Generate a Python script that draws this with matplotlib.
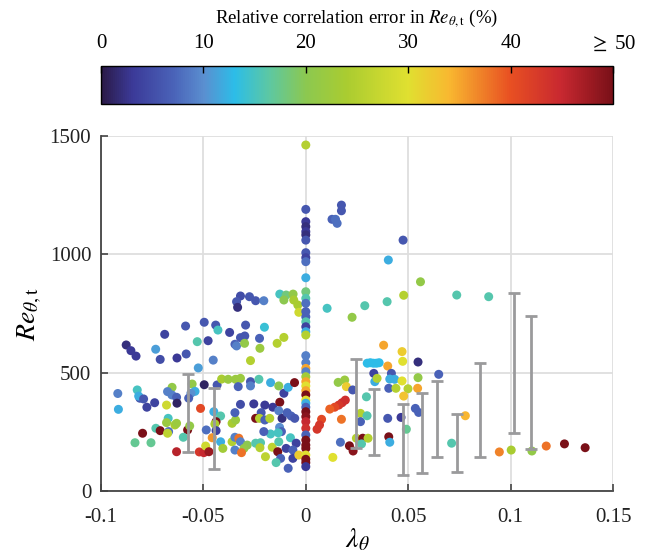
import numpy as np
import matplotlib
matplotlib.use("Agg")
import matplotlib.pyplot as plt
from matplotlib.colors import LinearSegmentedColormap, Normalize

plt.rcParams['font.family'] = ['Liberation Serif', 'DejaVu Serif']
plt.rcParams['mathtext.fontset'] = 'stix'

# ---- scatter data: pressure-gradient parameter, transition Re, relative error (%) ----
lam = [
    -0.0587, -0.0496, -0.0689, -0.0530, -0.0477, -0.0877, -0.0854, -0.0829, -0.0733, -0.0711,
    -0.0629, -0.0584, -0.0525, -0.0823, -0.0810, -0.0918, -0.0653, -0.0555, -0.0496, -0.0541,
    -0.0816, -0.0792, -0.0776, -0.0738, -0.0915, -0.0680, -0.0675, -0.0654, -0.0631, -0.0629,
    -0.0561, -0.0572, -0.0514, -0.0672, -0.0680, -0.0639, -0.0631, -0.0732, -0.0711, -0.0670,
    -0.0675, -0.0577, -0.0567, -0.0598, -0.0797, -0.0834, -0.0756, -0.0631, -0.0520, -0.0498,
    -0.0489, -0.0486, -0.0449, -0.0416, -0.0438, -0.0444, -0.0360, -0.0343, -0.0346, -0.0319,
    -0.0254, -0.0200, -0.0161, -0.0127, -0.0132, -0.0218, -0.0245, -0.0226, -0.0200, -0.0176,
    -0.0116, -0.0091, -0.0072, -0.0054, -0.0128, -0.0119, -0.0135, -0.0172, -0.0205, -0.0438,
    -0.0457, -0.0416, -0.0405, -0.0360, -0.0346, -0.0327, -0.0319, -0.0286, -0.0302, -0.0346,
    -0.0314, -0.0245, -0.0221, -0.0224, -0.0164, -0.0132, -0.0137, -0.0096, -0.0075, -0.0047,
    -0.0063, -0.0123, -0.0145, -0.0197, -0.0086, -0.0063, -0.0034, -0.0473,
    -0.0319, -0.0275, -0.0245, -0.0205, -0.0338, -0.0333, -0.0127, -0.0096, -0.0062, -0.0107,
    -0.0059, -0.0039, -0.0034, -0.0440, -0.0429, -0.0372, -0.0294, -0.0202, -0.0346, -0.0338,
    -0.0319, -0.0298, -0.0299, -0.0226, -0.0224, -0.0140, -0.0107, -0.0270, -0.0452, -0.0433,
    -0.0411, -0.0379, -0.0343, -0.0319, -0.0330, -0.0270, -0.0270, -0.0229, -0.0172, -0.0132,
    -0.0107, -0.0086, -0.0055,
    0.0, 0.0, 0.0, 0.0, 0.0, 0.0, 0.0, 0.0, 0.0, 0.0,
    0.0, 0.0, 0.0, 0.0, 0.0, 0.0, 0.0, 0.0, 0.0, 0.0,
    0.0, 0.0, 0.0, 0.0, 0.0, 0.0, 0.0, 0.0, 0.0, 0.0,
    0.0, 0.0, 0.0, 0.0, 0.0, 0.0, 0.0, 0.0, 0.0, 0.0,
    0.0, 0.0, 0.0, 0.0,
    0.0174, 0.0174, 0.0128, 0.0145, 0.0153, 0.0104, 0.0226, 0.0288, 0.0158, 0.0190,
    0.0198, 0.0229, 0.0296, 0.0267, 0.0267, 0.0193, 0.0177, 0.0161, 0.0141, 0.0117,
    0.0077, 0.0067, 0.0055, 0.0174, 0.0169, 0.0213, 0.0231, 0.0132, 0.0247, 0.0278,
    0.0272, 0.0299,
    0.0475, 0.0403, 0.0560, 0.0478, 0.0397, 0.0737, 0.0893, 0.0380, 0.0470, 0.0473,
    0.0548, 0.0300, 0.0315, 0.0330, 0.0345, 0.0358, 0.0400, 0.0332, 0.0418, 0.0337,
    0.0348, 0.0410, 0.0434, 0.0470, 0.0548, 0.0649, 0.0405, 0.0440, 0.0499, 0.0546,
    0.0478,
    0.0535, 0.0551, 0.0400, 0.0465, 0.0491, 0.0304, 0.0405, 0.0410, 0.0779, 0.0712,
    0.0945, 0.1003, 0.1104, 0.1174, 0.1263, 0.1364,
]
re_t = [
    697, 713, 662, 631, 635, 617, 593, 570, 599, 556,
    562, 579, 520, 427, 392, 412, 438, 452, 449, 421,
    401, 389, 354, 373, 345, 363, 420, 406, 396, 371,
    413, 392, 349, 307, 289, 279, 286, 265, 255, 251,
    244, 258, 275, 227, 244, 204, 204, 166, 165, 162,
    190, 258, 335, 317, 293, 283, 286, 300, 331, 366,
    368, 363, 354, 375, 339, 331, 307, 307, 300, 307,
    307, 331, 317, 307, 269, 251, 246, 241, 251, 255,
    225, 208, 180, 208, 227, 223, 208, 194, 180, 173,
    162, 202, 204, 183, 185, 208, 166, 180, 225, 202,
    173, 138, 120, 145, 96, 138, 152, 166,
    824, 821, 804, 804, 800, 776, 832, 828, 832, 807,
    807, 786, 755, 701, 680, 670, 701, 692, 620, 613,
    648, 655, 624, 645, 603, 624, 649, 551, 553, 448,
    473, 472, 472, 476, 441, 462, 444, 472, 458, 444,
    413, 438, 458,
    1462, 1190, 1138, 1117, 1096, 1082, 1060, 1007, 986, 969,
    901, 842, 814, 793, 758, 736, 715, 694, 673, 659,
    572, 542, 518, 504, 483, 462, 444, 424, 406, 384,
    371, 354, 335, 314, 293, 265, 237, 215, 194, 180,
    152, 134, 120, 103,
    1208, 1184, 1148, 1148, 1131, 772, 734, 783, 459, 469,
    441, 427, 398, 328, 293, 384, 373, 363, 354, 346,
    303, 279, 261, 303, 206, 191, 169, 142, 223, 223,
    199, 318,
    1060, 976, 884, 827, 800, 828, 821, 616, 589, 548,
    545, 540, 542, 540, 540, 542, 528, 497, 497, 462,
    476, 473, 472, 465, 479, 493, 434, 434, 432, 434,
    401,
    349, 332, 307, 311, 261, 223, 229, 206, 318, 202,
    165, 173, 169, 190, 199, 183,
]
err = [
    6, 6, 4, 16, 4, 2, 3, 3, 11, 5,
    3, 6, 11, 15, 6, 9, 21, 21, 1, 12,
    12, 6, 4, 4, 12, 28, 9, 9, 7, 1,
    10, 7, 41, 15, 22, 24, 22, 16, 50, 8,
    26, 50, 21, 16, 50, 17, 17, 46, 43, 45,
    28, 8, 12, 16, 50, 24, 24, 22, 7, 5,
    3, 3, 3, 50, 9, 6, 50, 25, 7, 25,
    2, 7, 7, 6, 10, 7, 15, 15, 7, 4,
    36, 12, 23, 25, 9, 38, 9, 20, 21, 9,
    38, 16, 16, 25, 26, 16, 50, 4, 15, 4,
    7, 7, 16, 26, 7, 4, 32, 48,
    5, 6, 6, 9, 6, 2, 15, 18, 21, 20,
    24, 24, 28, 6, 15, 4, 6, 14, 7, 9,
    6, 6, 21, 7, 22, 25, 25, 25, 9, 6,
    24, 22, 22, 22, 7, 6, 9, 16, 12, 20,
    4, 12, 50,
    25, 6, 3, 2, 3, 2, 6, 6, 4, 8,
    12, 18, 16, 8, 7, 7, 16, 4, 12, 25,
    9, 9, 35, 9, 23, 35, 30, 35, 50, 30,
    12, 7, 50, 49, 45, 44, 7, 50, 50, 50,
    30, 50, 50, 3,
    6, 6, 7, 8, 8, 15, 21, 16, 21, 22,
    32, 6, 16, 25, 7, 44, 44, 43, 41, 39,
    41, 43, 43, 38, 8, 50, 49, 30, 25, 50,
    16, 16,
    6, 12, 21, 25, 16, 16, 16, 35, 32, 30,
    2, 13, 13, 13, 13, 13, 35, 4, 6, 12,
    25, 12, 12, 30, 21, 7, 7, 25, 25, 35,
    33,
    7, 7, 6, 3, 17, 25, 50, 12, 34, 16,
    37, 24, 21, 38, 50, 50,
]

# ---- uncertainty bars: position, lower and upper bound ----
bar_lam = [-0.0576, -0.0449, 0.0244, 0.0332, 0.0473, 0.0566, 0.0639, 0.0737, 0.0849, 0.1015, 0.1098]
bar_lo = [165, 93, 181, 152, 68, 76, 144, 80, 144, 245, 178]
bar_hi = [494, 435, 557, 431, 368, 414, 465, 325, 541, 836, 739]

x_ticks = [-0.1, -0.05, 0, 0.05, 0.1, 0.15]
x_ticklabels = ['-0.1', '-0.05', '0', '0.05', '0.1', '0.15']
y_ticks = [0, 500, 1000, 1500]
cb_ticks = [0, 10, 20, 30, 40, 50]
cb_ticklabels = ['0', '10', '20', '30', '40', r'$\geq$ 50']

cmap = LinearSegmentedColormap.from_list('err', [
    (0.00, '#2b1a48'), (0.06, '#3b3a98'), (0.14, '#4a62b8'), (0.20, '#5a8fd0'),
    (0.26, '#2cbde8'), (0.33, '#5ec8a0'), (0.40, '#8cc850'), (0.48, '#aacc30'),
    (0.60, '#e0e030'), (0.68, '#f8b830'), (0.80, '#e85022'), (0.90, '#c82830'),
    (1.00, '#7a1018')])
norm = Normalize(0, 50)

fig = plt.figure(figsize=(6.47, 5.6), dpi=100)
ax = fig.add_axes([101 / 647, 1 - 491 / 560, 512 / 647, 355 / 560])
cax = fig.add_axes([101 / 647, 1 - 104 / 560, 512 / 647, 38 / 560])

ax.grid(True, color='#dedede', lw=1.3, zorder=0)
ax.set_axisbelow(True)
ax.scatter(lam, re_t, c=err, cmap=cmap, norm=norm, s=42, linewidths=0, zorder=2)

bl = np.array(bar_lam)
lo = np.array(bar_lo)
hi = np.array(bar_hi)
mid = (lo + hi) / 2
ax.errorbar(bl, mid, yerr=[mid - lo, hi - mid], fmt='none', ecolor='#9a9a9c',
            elinewidth=2.0, capsize=4.5, capthick=2.0, zorder=3)

ax.set_xlim(-0.1, 0.15)
ax.set_ylim(0, 1500)
ax.set_xticks(x_ticks)
ax.set_xticklabels(x_ticklabels)
ax.set_yticks(y_ticks)
for s in ['top', 'right']:
    ax.spines[s].set_visible(False)
for s in ['left', 'bottom']:
    ax.spines[s].set_color('#444444')
    ax.spines[s].set_linewidth(1.3)
ax.tick_params(direction='in', length=5, width=1.2, color='#444444',
               labelsize=15, labelcolor='#222222')
ax.tick_params(axis='x', pad=12)
ax.tick_params(axis='y', pad=7)
ax.set_xlabel(r'$\lambda_\theta$', fontsize=20, labelpad=0)
ax.set_ylabel(r'$Re_{\theta,\mathrm{t}}$', fontsize=20, labelpad=4)

sm = plt.cm.ScalarMappable(norm=norm, cmap=cmap)
cb = fig.colorbar(sm, cax=cax, orientation='horizontal', ticks=cb_ticks)
cb.outline.set_linewidth(1.0)
cax.xaxis.set_ticks_position('top')
cax.xaxis.set_label_position('top')
cax.tick_params(direction='in', length=5, width=1.0, labelsize=15, pad=9)
cb.set_ticklabels(cb_ticklabels)
cb.set_label(r'Relative correlation error in $Re_{\theta,\mathrm{t}}$ (%)', fontsize=13.5, labelpad=8)

fig.savefig('out.png', dpi=100)
